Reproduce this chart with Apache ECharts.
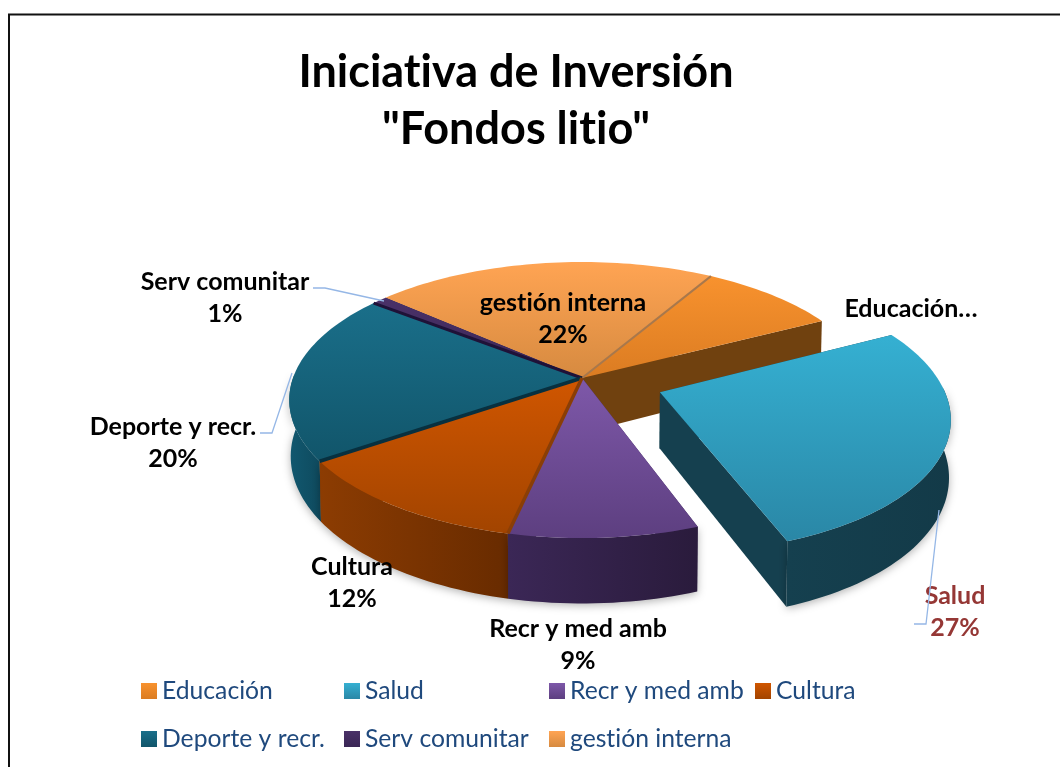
<!DOCTYPE html>
<html><head><meta charset="utf-8">
<style>html,body{margin:0;padding:0;background:#fff}#c{width:1060px;height:767px}</style>
<script src="https://cdn.jsdelivr.net/npm/echarts@6/dist/echarts.min.js"></script>
</head><body><div id="c"></div>
<script>
const categories = ['Educación','Salud','Recr y med amb','Cultura','Deporte y recr.','Serv comunitar','gestión interna'];
const values = [9,27,9,12,20,1,22];
const labelNames = ['Educación…','Salud','Recr y med amb','Cultura','Deporte y recr.','Serv comunitar','gestión interna'];
const showPercent = [false,true,true,true,true,true,true];

// styles
const topColors = [['#F8922E','#DB7C22'],['#35B0D2','#2A87A6'],['#7E58A9','#5D3F80'],['#D05600','#A24400'],['#1A6F8A','#11556A'],['#4A3168','#3A2655'],['#FFA453','#D68A40']];
const wallColors = [['#70410F','#5C320B'],['#15404F','#133A48'],['#3B2756','#2A1B3C'],['#8C3C02','#682B00'],['#12586F','#0E4A5E'],['#2E1E42','#2E1E42'],['#A06A30','#A06A30']];
const edgeLines = [['#A8784C',2,0],null,['#8A3E06',3.5,1],['#08303F',3.5,1],['#1F1238',3,1],null,null];
const drawOrder = [2,7,6,5,4,3,1];
const labelPos = [[911,309],[955,612],[578,645],[352,583],[173,443],[225,298],[563,319]];
const labelColors = ['#000','#953735','#000','#000','#000','#000','#000'];
const leaders = [[[313,288],[325,288],[384,301]],[[260,433],[272,433],[292,373]],[[914,624],[926,624],[939,510]]];
const legendCols = [[0,4],[1,5],[2,6],[3]];
const legendLeft = [141,344,549,755];

// keep glyphs separate (no "ti" ligature), as in the reference
const origGetContext = HTMLCanvasElement.prototype.getContext;
HTMLCanvasElement.prototype.getContext = function(){
  const ctx = origGetContext.apply(this, arguments);
  if (ctx && 'textRendering' in ctx) ctx.textRendering = 'optimizeSpeed';
  return ctx;
};

// projection
const cx=582, cy=378, R=289, RY=134.5, D=6.27, H=55, startDeg=59.5, explode={1:0.285}, radiusScale={1:0.97};
const total = values.reduce((a,b)=>a+b,0);
function proj(X,Y,low){
  const p=D/(D+Y);
  const sx=low?0.995:1;
  return [cx+R*X*p*sx, cy-RY*Y*p+(low?H*p:0)];
}
function startOf(i){let s=startDeg;for(let k=0;k<i;k++)s-=values[k]/total*360;return s;}
function vGrad(a,b){return new echarts.graphic.LinearGradient(0,0,0,1,[{offset:0,color:a},{offset:1,color:b}]);}
function hGrad(a,b){return new echarts.graphic.LinearGradient(0,0,1,0,[{offset:0,color:a},{offset:1,color:b}]);}

function makeRender(i){
  return function(params,api){
    const v=api.value(0);
    const a0=startOf(i), a1=a0-v/total*360;
    const mid=(a0+a1)/2*Math.PI/180, e=explode[i]||0, rs=radiusScale[i]||1;
    const ox=Math.cos(mid)*e, oy=Math.sin(mid)*e;
    const top=[],frontTop=[],frontLow=[];
    const n=Math.max(4,Math.ceil((a0-a1)/1.5));
    let firstLow,lastLow;
    for(let k=0;k<=n;k++){
      const a=(a0+(a1-a0)*k/n)*Math.PI/180;
      const X=Math.cos(a)*rs+ox,Y=Math.sin(a)*rs+oy;
      const t=proj(X,Y,false),l=proj(X,Y,true);
      top.push(t);
      if(k===0)firstLow=l;
      if(k===n)lastLow=l;
      if(Math.sin(a)<0.05){frontTop.push(t);frontLow.push(l);}
    }
    const c=proj(ox,oy,false),cl=proj(ox,oy,true);
    const children=[];
    const shadow={shadowBlur:8,shadowColor:'rgba(0,0,0,0.3)',shadowOffsetY:2};
    // radial walls
    [[c,cl,firstLow,top[0]],[c,cl,lastLow,top[n]]].forEach(pts=>{
      children.push({type:'polygon',shape:{points:pts},style:{fill:wallColors[i][0]}});
    });
    // outer wall, front part only
    if(frontTop.length>1){
      children.push({type:'polygon',shape:{points:frontTop.concat(frontLow.slice().reverse())},
        style:Object.assign({fill:hGrad(wallColors[i][0],wallColors[i][1])},shadow)});
    }
    // top face
    children.push({type:'polygon',shape:{points:[c].concat(top)},style:{fill:vGrad(topColors[i][0],topColors[i][1])}});
    if(edgeLines[i]){
      const end=top[edgeLines[i][2]?n:0];
      children.push({type:'line',shape:{x1:c[0],y1:c[1],x2:end[0],y2:end[1]},style:{stroke:edgeLines[i][0],lineWidth:edgeLines[i][1]}});
    }
    children.push({type:'text',x:labelPos[i][0],y:labelPos[i][1],z2:50,style:{
      text:labelNames[i]+(showPercent[i]?'\n'+v+'%':''),
      fill:labelColors[i],font:'bold 25px Lato',lineHeight:32,align:'center',verticalAlign:'middle'}});
    return {type:'group',children};
  };
}

const series = categories.map((name,i)=>({
  type:'custom',name,coordinateSystem:'none',silent:true,z:2+drawOrder[i],
  data:[[values[i]]],
  itemStyle:{color:{type:'linear',x:0,y:0,x2:0,y2:1,colorStops:[{offset:0,color:topColors[i][0]},{offset:1,color:topColors[i][1]}]}},
  renderItem:makeRender(i)
}));

const legend = legendCols.map((col,c)=>({
  orient:'vertical',left:legendLeft[c],top:678,itemWidth:16,itemGap:22,itemHeight:16,
  selectedMode:false,icon:'rect',padding:0,
  data:col.map(i=>categories[i]),
  textStyle:{fontFamily:'Lato',fontSize:24.7,color:'#1F497D',padding:[0,0,0,0],lineHeight:26}
}));

const chart=echarts.init(document.getElementById('c'),null,{renderer:'canvas'});
chart.setOption({
  animation:false,backgroundColor:'#fff',
  title:{text:'Iniciativa de Inversión\n"Fondos litio"',left:516,top:44,padding:0,textAlign:'center',
    textStyle:{fontFamily:'Lato',fontWeight:'bold',fontSize:45,lineHeight:57,color:'#000'}},
  legend,series,
  graphic:[
    {type:'polyline',shape:{points:[[9,767],[9,14.5],[1060,14.5]]},style:{stroke:'#111',lineWidth:2,fill:null},z:1},
    ...leaders.map(p=>({type:'polyline',shape:{points:p},style:{stroke:'#95B7E6',lineWidth:1.3,fill:null},z:20}))
  ]
});
</script></body></html>
